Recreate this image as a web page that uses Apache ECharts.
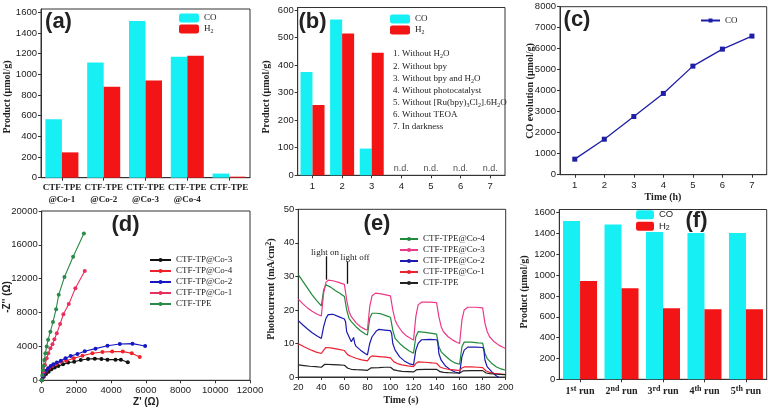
<!DOCTYPE html>
<html><head><meta charset="utf-8">
<script src="https://cdn.jsdelivr.net/npm/echarts/dist/echarts.min.js"></script>
<style>html,body{margin:0;padding:0;background:#fff}#c{width:772px;height:412px}</style>
</head><body><div id="c"></div>
<script>
// ---------- DATA ----------
const aCats = ['CTF-TPE\n@Co-1','CTF-TPE\n@Co-2','CTF-TPE\n@Co-3','CTF-TPE\n@Co-4','CTF-TPE'];
const aCO = [565, 1115, 1515, 1170, 40];
const aH2 = [245, 880, 940, 1180, 10];

const bCats = ['1','2','3','4','5','6','7'];
const bCO = [375, 565, 97, null, null, null, null];
const bH2 = [255, 515, 445, null, null, null, null];
const bND = ['4','5','6','7'];
const bNotes = [
  '{n|1. Without H}{sub|2}{n|O}',
  '{n|2. Without bpy}',
  '{n|3. Without bpy and H}{sub|2}{n|O}',
  '{n|4. Without photocatalyst}',
  '{n|5. Without [Ru(bpy)}{sub|3}{n|Cl}{sub|2}{n|].6H}{sub|2}{n|O}',
  '{n|6. Without TEOA}',
  '{n|7. In darkness}'
];

const cTime = ['1','2','3','4','5','6','7'];
const cCO = [740, 1690, 2770, 3870, 5170, 5980, 6600];

const dCo3 = [[0,0],[120,430],[250,750],[400,1020],[560,1300],[750,1500],[960,1690],[1230,1890],[1520,2090],[1870,2200],[2250,2400],[2670,2520],[3060,2560],[3440,2520],[3790,2440],[4250,2440],[4560,2440],[4960,2130]];
const dCo4 = [[0,0],[60,430],[150,830],[270,1140],[420,1420],[620,1690],[850,1930],[1100,2200],[1420,2320],[1850,2600],[2350,2910],[2920,3190],[3500,3350],[4060,3390],[4670,3390],[5190,3190],[5650,2760]];
const dCo2 = [[0,0],[60,430],[130,830],[250,1140],[370,1420],[520,1690],[670,1890],[870,2090],[1100,2320],[1370,2600],[1670,2870],[2060,3110],[2480,3430],[3100,3740],[3790,4090],[4500,4290],[5230,4330],[5960,4060]];
const dCo1 = [[0,0],[100,1000],[190,1800],[290,2600],[380,3200],[500,3780],[620,4250],[730,4840],[870,5550],[1060,6650],[1250,7800],[1560,9000],[1940,10870],[2480,12900]];
const dTPE = [[0,0],[40,600],[70,1200],[100,1700],[150,2400],[210,3200],[290,4000],[370,4800],[500,5750],[650,6900],[830,8400],[980,10100],[1310,12200],[1810,14600],[2430,17350]];

const eCo4 = [[20,30.5],[24,28.5],[28,26.5],[32,24.5],[36,22.8],[40,21.2],[41,21],[42,26],[44,27.5],[48,26.8],[52,25.8],[56,25],[60,24],[61,23.5],[62,20],[64,17.5],[66,16.5],[70,15],[74,13.8],[78,12.8],[80,12.5],[81,12.6],[82,17.5],[84,19],[88,19],[92,18.8],[96,18.3],[100,17.8],[101,17.5],[102,14],[104,11.5],[108,10],[112,8.8],[116,7.8],[120,7.1],[121,7.2],[122,12],[124,13.5],[130,13.3],[136,13],[140,12.8],[141,12.5],[142,9],[144,7.5],[148,6.2],[152,5],[156,4.2],[160,3.8],[161,3.9],[162,9],[164,10.4],[170,10.4],[176,10.2],[180,10.1],[181,9.8],[182,7],[184,5.5],[188,4],[192,3],[196,2.4],[200,2]];
const eCo3 = [[20,23.2],[24,21.8],[28,20.6],[32,19.6],[36,18.8],[40,18.2],[41,18.3],[42,25],[44,28.2],[46,28.9],[50,28.7],[55,28.2],[60,27.6],[61,27.2],[62,23],[64,19.5],[66,18],[70,16.2],[74,15],[78,14.2],[80,14],[81,14.2],[82,21],[84,24.2],[87,25],[92,24.8],[96,24.5],[100,24.2],[101,23.8],[102,20],[104,17],[106,15.5],[110,13.5],[114,12.2],[118,11.4],[120,11],[121,11.2],[122,18],[124,21.5],[127,22.3],[134,22.3],[140,22.2],[141,21.8],[142,18],[144,15],[146,13.5],[150,12],[154,11],[158,10.3],[160,10],[161,10.2],[162,17],[164,20],[167,20.8],[174,20.8],[180,20.6],[181,20.2],[182,16],[184,13.5],[186,12],[190,10.5],[194,9.5],[198,8.8],[200,8.5]];
const eCo2 = [[20,16.8],[24,15.5],[28,14.3],[32,13.2],[36,12.3],[40,11.5],[41,11.8],[42,15],[44,17.5],[46,18.6],[50,18.7],[55,18],[60,17.3],[61,16.5],[62,13.5],[64,12],[66,10.5],[67,10],[68,11.8],[69,10],[70,9.2],[74,8],[78,7],[80,6.6],[81,6.8],[82,10],[84,12],[88,13.8],[90,14.2],[95,14],[100,13.8],[101,13],[102,10],[104,8],[108,6],[112,4.8],[116,4],[120,3.6],[121,3.8],[122,8],[124,10],[127,11.1],[134,11.2],[140,11.1],[141,10.5],[142,7],[144,5],[148,3.2],[152,2.2],[156,1.5],[160,1.1],[161,1.5],[162,6],[164,8],[167,8.9],[174,8.9],[180,8.8],[181,8.2],[182,5],[184,3],[188,1.5],[192,0.3],[196,-0.5],[200,-1]];
const eCo1 = [[20,9.9],[25,9],[30,8.2],[35,7.5],[40,7],[41,7.1],[42,8],[44,8.8],[48,8.7],[54,8.3],[60,7.9],[61,7.5],[63,6.6],[66,6.1],[70,5.6],[75,5.1],[80,4.8],[81,5],[82,5.8],[84,6.3],[90,6.1],[96,5.9],[100,5.7],[101,5.3],[103,4.5],[106,4],[110,3.6],[115,3.3],[120,3.1],[121,3.3],[122,4],[124,4.5],[130,4.4],[136,4.2],[140,4.1],[141,3.7],[143,3],[146,2.6],[150,2.3],[155,2.1],[160,1.9],[161,2.1],[162,2.7],[164,3],[170,3],[176,2.9],[180,2.8],[181,2.4],[183,1.8],[186,1.4],[190,1.1],[195,0.9],[200,0.7]];
const eTPE = [[20,3.6],[25,3.4],[30,3.2],[35,3.1],[40,2.9],[41,3],[43,3.8],[50,3.7],[55,3.6],[60,3.5],[61,3.2],[63,2.6],[66,2.3],[70,2.2],[75,2.1],[80,2],[81,2.1],[83,2.7],[90,2.8],[95,2.9],[100,2.9],[101,2.6],[103,2.1],[106,1.9],[110,1.7],[115,1.6],[120,1.5],[121,1.6],[123,2.2],[130,2.3],[136,2.3],[140,2.3],[141,2],[143,1.6],[146,1.4],[150,1.3],[155,1.2],[160,1.2],[161,1.3],[163,1.8],[170,1.9],[176,1.9],[180,1.9],[181,1.6],[183,1.2],[186,1],[190,0.9],[195,0.8],[200,0.7]];
const eArrowOn = [[44,36],[44,29]];
const eArrowOff = [[62.5,34.5],[62.5,27.8]];

const fCats = ['1st run','2nd run','3rd run','4th run','5th run'];
const fCO = [1520, 1485, 1414, 1405, 1405];
const fH2 = [944, 874, 682, 672, 672];

// ---------- STYLE ----------
const CYAN = '#16eff4', RED = '#f31515';
const SANS = 'Liberation Sans', SERIF = 'Liberation Serif';
const AX = '#333', TXT = '#222';
function rich(fam, size, weight) {
  return {
    n: {fontFamily: fam, fontSize: size, fontWeight: weight, color: TXT, lineHeight: size + 2},
    sub: {fontFamily: fam, fontSize: Math.round(size * 0.7), fontWeight: weight, color: TXT, verticalAlign: 'bottom'},
    sup: {fontFamily: fam, fontSize: Math.round(size * 0.75), fontWeight: weight, color: TXT, verticalAlign: 'top'}
  };
}
const legendNames = {
  'a-CO': '{n|CO}', 'a-H2': '{n|H}{sub|2}',
  'b-CO': '{n|CO}', 'b-H2': '{n|H}{sub|2}',
  'c-CO': '{n|CO}',
  'f-CO': '{n|CO}', 'f-H2': '{n|H}{sub|2}'
};
function strip(name) { return legendNames[name] || ('{n|' + name.slice(2) + '}'); }
function plain(v) { return String(v); }

function grid(l, t, w, h) { return {left: l, top: t, width: w, height: h, show: true, borderColor: AX, borderWidth: 1, backgroundColor: 'transparent'}; }
function baseAxis(extra) {
  return Object.assign({
    axisLine: {show: true, onZero: false, lineStyle: {color: AX, width: 1}},
    axisTick: {show: true, inside: false, length: 3, lineStyle: {color: AX}},
    splitLine: {show: false},
    axisLabel: {fontFamily: SANS, fontSize: 9.5, color: TXT, margin: 4}
  }, extra);
}
function catAxis(gi, data, labelExtra) {
  const ax = baseAxis({type: 'category', gridIndex: gi, data: data, boundaryGap: true});
  ax.axisTick.alignWithLabel = true;
  ax.axisLabel = Object.assign({}, ax.axisLabel, {interval: 0}, labelExtra || {});
  return ax;
}
function valAxis(gi, min, max, interval, labelExtra) {
  const ax = baseAxis({type: 'value', gridIndex: gi, min: min, max: max, interval: interval});
  ax.axisLabel = Object.assign({}, ax.axisLabel, {formatter: plain}, labelExtra || {});
  return ax;
}
function bar(name, gi, data, color, w) {
  return {name: name, type: 'bar', xAxisIndex: gi, yAxisIndex: gi, data: data, barWidth: w, barGap: '0%',
    itemStyle: {color: color}, animation: false, emphasis: {disabled: true}};
}
function line(name, gi, data, color, sym, symSize, width) {
  return {name: name, type: 'line', xAxisIndex: gi, yAxisIndex: gi, data: data,
    symbol: sym, symbolSize: symSize, showSymbol: sym !== 'none',
    lineStyle: {color: color, width: width}, itemStyle: {color: color},
    animation: false, clip: true, emphasis: {disabled: true}};
}
function legend(names, left, top, opt) {
  return Object.assign({
    data: names, left: left, top: top, orient: 'vertical', itemGap: 0, itemWidth: 20, itemHeight: 9, itemTextGap: 3,
    selectedMode: false, padding: 0, formatter: strip,
    textStyle: {fontFamily: SERIF, fontSize: 9, color: TXT, lineHeight: 10, rich: rich(SERIF, 9, 'normal')}
  }, opt || {});
}
function gtext(x, y, text, fam, size, weight, rot, align) {
  return {type: 'text', x: x, y: y, rotation: rot || 0, silent: true,
    style: {text: text, fill: TXT, fontFamily: fam, fontSize: size, fontWeight: weight,
      textAlign: align || 'center', textVerticalAlign: 'middle', rich: rich(fam, size, weight)}};
}

const option = {
  backgroundColor: '#fff',
  animation: false,
  grid: [
    grid(41, 9, 209, 168.7),
    grid(297.7, 7.5, 207.3, 167.8),
    grid(560, 6.7, 206.7, 168),
    grid(41.7, 211, 208.3, 169.3),
    grid(298.3, 209.3, 207.4, 167.7),
    grid(559.3, 209.5, 207.4, 169.8)
  ],
  xAxis: [
    catAxis(0, aCats, {fontFamily: SERIF, fontWeight: 'bold', fontSize: 9, lineHeight: 12, margin: 4}),
    catAxis(1, bCats, {margin: 6}),
    catAxis(2, cTime, {margin: 6}),
    valAxis(3, 0, 12000, 2000, {margin: 5}),
    valAxis(4, 20, 200, 20, {margin: 5}),
    catAxis(5, fCats, {margin: 6, formatter: function (v) {
      return v.replace(/^(\d)(st|nd|rd|th) (run)$/, '{n|$1}{sup|$2}{n| $3}');
    }, rich: rich(SERIF, 10, 'bold')})
  ],
  yAxis: [
    valAxis(0, 0, 1632, 200, {showMaxLabel: false}),
    valAxis(1, 0, 609, 100, {showMaxLabel: false}),
    valAxis(2, 0, 8000, 1000),
    valAxis(3, 0, 20000, 4000),
    valAxis(4, 0, 50, 10),
    valAxis(5, 0, 1630, 200, {showMaxLabel: false})
  ],
  legend: [
    legend(['a-CO', 'a-H2'], 179, 12.5),
    legend(['b-CO', 'b-H2'], 390, 13.5, {textStyle: {fontFamily: SERIF, fontSize: 9, color: TXT, lineHeight: 11, rich: rich(SERIF, 9, 'normal')}}),
    legend(['c-CO'], 700, 15, {itemWidth: 19, itemHeight: 5}),
    legend(['d-CTF-TP@Co-3', 'd-CTF-TP@Co-4', 'd-CTF-TP@Co-2', 'd-CTF-TP@Co-1', 'd-CTF-TPE'], 149, 254.5, {itemWidth: 21, itemHeight: 5}),
    legend(['e-CTF-TPE@Co-4', 'e-CTF-TPE@Co-3', 'e-CTF-TPE@Co-2', 'e-CTF-TPE@Co-1', 'e-CTF-TPE'], 399, 233.5, {itemWidth: 18, itemHeight: 5}),
    legend(['f-CO', 'f-H2'], 636, 209, {itemWidth: 18, itemHeight: 9, textStyle: {fontFamily: SANS, fontSize: 9.5, color: TXT, lineHeight: 11.4, rich: rich(SANS, 9.5, 'normal')}})
  ],
  series: [
    bar('a-CO', 0, aCO, CYAN, 16.5),
    bar('a-H2', 0, aH2, RED, 16.5),
    bar('b-CO', 1, bCO, CYAN, 12),
    bar('b-H2', 1, bH2, RED, 12),
    {type: 'scatter', xAxisIndex: 1, yAxisIndex: 1, data: bND.map(function (c) { return [c, 0]; }),
      symbolSize: 1, itemStyle: {color: 'rgba(0,0,0,0)'}, animation: false, silent: true,
      label: {show: true, position: 'top', distance: 2, formatter: 'n.d.', fontFamily: SANS, fontSize: 9, color: TXT}},
    line('c-CO', 2, cCO, '#1f1fa6', 'rect', 5, 1.3),
    line('d-CTF-TP@Co-3', 3, dCo3, '#111111', 'circle', 4, 1.1),
    line('d-CTF-TP@Co-4', 3, dCo4, '#f0202a', 'circle', 4, 1.1),
    line('d-CTF-TP@Co-2', 3, dCo2, '#1616c2', 'circle', 4, 1.1),
    line('d-CTF-TP@Co-1', 3, dCo1, '#e8305e', 'circle', 4, 1.1),
    line('d-CTF-TPE', 3, dTPE, '#2a8a48', 'circle', 4, 1.1),
    line('e-CTF-TPE@Co-4', 4, eCo4, '#208a3c', 'none', 0, 1.2),
    line('e-CTF-TPE@Co-3', 4, eCo3, '#ea3a86', 'none', 0, 1.2),
    line('e-CTF-TPE@Co-2', 4, eCo2, '#1a1ab0', 'none', 0, 1.2),
    line('e-CTF-TPE@Co-1', 4, eCo1, '#ec2030', 'none', 0, 1.2),
    Object.assign(line('e-CTF-TPE', 4, eTPE, '#222222', 'none', 0, 1.2), {
      markLine: {silent: true, animation: false, symbol: ['none', 'arrow'], symbolSize: [0, 7],
        label: {show: false}, lineStyle: {color: '#111', width: 1.3, type: 'solid'},
        emphasis: {disabled: true},
        data: [
          [{coord: eArrowOn[0]}, {coord: eArrowOn[1]}],
          [{coord: eArrowOff[0]}, {coord: eArrowOff[1]}]
        ]}
    }),
    bar('f-CO', 5, fCO, CYAN, 17),
    bar('f-H2', 5, fH2, RED, 17)
  ],
  graphic: [
    gtext(58.5, 22, '(a)', SANS, 22, 'bold'),
    gtext(312.5, 22, '(b)', SANS, 22, 'bold'),
    gtext(577, 20, '(c)', SANS, 22, 'bold'),
    gtext(125.5, 225, '(d)', SANS, 22, 'bold'),
    gtext(377, 224, '(e)', SANS, 22, 'bold'),
    gtext(696.5, 220.5, '(f)', SANS, 22, 'bold'),
    gtext(7, 97, '{n|Product (μmol/g)}', SERIF, 10, 'bold', Math.PI / 2),
    gtext(266, 97, '{n|Product (μmol/g)}', SERIF, 10, 'bold', Math.PI / 2),
    gtext(530, 91, '{n|CO evolution (μmol/g)}', SERIF, 10, 'bold', Math.PI / 2),
    gtext(663, 197, '{n|Time (h)}', SERIF, 10, 'bold'),
    gtext(7, 297, "{n|-Z'' (Ω)}", SANS, 10, 'bold', Math.PI / 2),
    gtext(146, 402, "{n|Z' (Ω)}", SANS, 10, 'bold'),
    gtext(271, 289, '{n|Photocurrent (mA/cm}{sup|2}{n|)}', SERIF, 10, 'bold', Math.PI / 2),
    gtext(401, 400, '{n|Time (s)}', SERIF, 10, 'bold'),
    gtext(524, 292, '{n|Product (μmol/g)}', SERIF, 10, 'bold', Math.PI / 2),
    gtext(325, 253, '{n|light on}', SERIF, 9, 'normal'),
    gtext(355, 258, '{n|light off}', SERIF, 9, 'normal')
  ].concat([54, 67, 79, 91, 102.5, 114.5, 126.5].map(function (y, i) {
    return gtext(393, y, bNotes[i], SERIF, 9, 'normal', 0, 'left');
  }))
};

const chart = echarts.init(document.getElementById('c'), null, {renderer: 'canvas', width: 772, height: 412});
chart.setOption(option);
</script>
</body></html>
